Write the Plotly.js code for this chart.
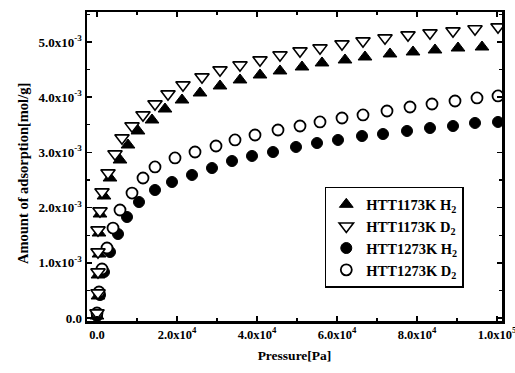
<!DOCTYPE html>
<html>
<head>
<meta charset="utf-8">
<script src="https://cdn.plot.ly/plotly-3.0.1.min.js"></script>
<style>html,body{margin:0;padding:0;background:#fff;}#chart{width:515px;height:373px;}</style>
</head>
<body>
<div id="chart"></div>
<script>
// Pressure [Pa] and amount of adsorption [10^-3 mol/g]
const p_1173_H2 = [0,250,250,500,500,750,1750,3250,5750,7750,10250,13750,17000,21250,25750,30750,35750,40750,45750,51250,56250,62000,67000,73250,79000,84500,90250,96250];
const a_1173_H2 = [0.036,0.399,0.779,1.159,1.540,1.884,2.210,2.536,2.862,3.134,3.388,3.587,3.786,3.949,4.076,4.203,4.312,4.402,4.475,4.547,4.620,4.674,4.728,4.783,4.819,4.855,4.891,4.909];

const p_1173_D2 = [0,250,250,250,250,750,1250,2750,4500,6250,8750,11500,14500,17750,21500,26250,30750,35750,40750,45750,50750,55750,61250,66500,72000,77750,83250,89000,94500,100250];
const a_1173_D2 = [0.091,0.453,0.833,1.196,1.594,1.938,2.283,2.627,2.971,3.261,3.478,3.678,3.877,4.058,4.221,4.366,4.493,4.583,4.674,4.764,4.837,4.891,4.964,5.018,5.072,5.127,5.163,5.199,5.236,5.272];

const p_1273_H2 = [0,750,1750,3250,5250,7500,10500,14500,18750,23750,28750,33750,38750,44000,49750,55000,60250,66250,71500,77500,83250,89000,94500,100250];
const a_1273_H2 = [0.036,0.417,0.833,1.196,1.522,1.830,2.101,2.319,2.464,2.591,2.717,2.844,2.935,3.007,3.098,3.170,3.225,3.297,3.333,3.388,3.442,3.478,3.533,3.551];

const p_1273_D2 = [0,500,1250,2500,4000,5750,8750,11500,14500,19500,24500,29750,34500,39500,45250,50750,55750,61250,66500,72500,78250,83750,89500,95000,100250];
const a_1273_D2 = [0.091,0.471,0.888,1.268,1.630,1.957,2.264,2.536,2.736,2.899,3.007,3.116,3.225,3.315,3.406,3.478,3.551,3.623,3.678,3.750,3.822,3.877,3.931,3.986,4.022];

const seriesNames = ["HTT1173K H<sub>2</sub>","HTT1173K D<sub>2</sub>","HTT1273K H<sub>2</sub>","HTT1273K D<sub>2</sub>"];

const xTickVals = [0,20000,40000,60000,80000,100000];
const xTickText = ["0.0","2.0x10<sup>4</sup>","4.0x10<sup>4</sup>","6.0x10<sup>4</sup>","8.0x10<sup>4</sup>","1.0x10<sup>5</sup>"];
const yTickVals = [0,0.001,0.002,0.003,0.004,0.005];
const yTickText = ["0.0","1.0x10<sup>-3</sup>","2.0x10<sup>-3</sup>","3.0x10<sup>-3</sup>","4.0x10<sup>-3</sup>","5.0x10<sup>-3</sup>"];
const xTitle = "Pressure[Pa]";
const yTitle = "Amount of adsorption[mol/g]";

const scale = 1e-3;
const toMol = arr => arr.map(v => v * scale);

const serif = "Liberation Serif, Times New Roman, serif";

const traces = [
  {x:p_1173_H2, y:toMol(a_1173_H2), name:seriesNames[0], mode:"markers", type:"scatter", legendrank:1,
   marker:{symbol:"triangle-up", size:12, color:"#000", line:{color:"#000", width:1}}},
  {x:p_1273_H2, y:toMol(a_1273_H2), name:seriesNames[2], mode:"markers", type:"scatter", legendrank:3,
   marker:{symbol:"circle", size:11, color:"#000", line:{color:"#000", width:1}}},
  {x:p_1273_D2, y:toMol(a_1273_D2), name:seriesNames[3], mode:"markers", type:"scatter", legendrank:4,
   marker:{symbol:"circle", size:11, color:"#fff", line:{color:"#000", width:1.8}}},
  {x:p_1173_D2, y:toMol(a_1173_D2), name:seriesNames[1], mode:"markers", type:"scatter", legendrank:2,
   marker:{symbol:"triangle-down", size:12.5, color:"#fff", line:{color:"#000", width:1.6}}}
];

const layout = {
  width:515, height:373,
  margin:{l:87, r:13, t:12, b:52},
  paper_bgcolor:"#fff", plot_bgcolor:"#fff",
  showlegend:true,
  legend:{
    x:0.573, y:0.434, xanchor:"left", yanchor:"top",
    bgcolor:"#fff", bordercolor:"#000", borderwidth:1.5,
    font:{family:serif, size:14.5, color:"#000", weight:"bold"},
    traceorder:"normal", tracegroupgap:0
  },
  xaxis:{
    range:[-2500, 101250],
    tickmode:"array", tickvals:xTickVals, ticktext:xTickText,
    ticks:"inside", ticklen:5, tickwidth:1.5, tickcolor:"#000",
    showline:true, linecolor:"#000", linewidth:2.5, mirror:"ticks",
    showgrid:false, zeroline:false, ticklabeloverflow:"allow",
    tickfont:{family:serif, size:12.5, color:"#000", weight:"bold"},
    minor:{tickmode:"linear", tick0:0, dtick:10000, ticks:"inside", ticklen:3, tickwidth:1.2, tickcolor:"#000", showgrid:false},
    title:{text:xTitle, font:{family:serif, size:13.5, color:"#000", weight:"bold"}, standoff:10}
  },
  yaxis:{
    range:[-0.000054, 0.005543],
    tickmode:"array", tickvals:yTickVals, ticktext:yTickText,
    ticks:"inside", ticklen:5, tickwidth:1.5, tickcolor:"#000",
    showline:true, linecolor:"#000", linewidth:2.5, mirror:"ticks",
    showgrid:false, zeroline:false,
    tickfont:{family:serif, size:13, color:"#000", weight:"bold"},
    minor:{tickmode:"linear", tick0:0, dtick:0.0005, ticks:"inside", ticklen:3, tickwidth:1.2, tickcolor:"#000", showgrid:false},
    title:{text:""}
  },
  annotations:[{
    text:yTitle, textangle:-90, showarrow:false,
    xref:"paper", yref:"paper", x:-0.154, y:0.476, xanchor:"center", yanchor:"middle",
    font:{family:serif, size:14.5, color:"#000", weight:"bold"}
  }]
};

Plotly.newPlot("chart", traces, layout, {displayModeBar:false, staticPlot:true});
</script>
</body>
</html>
